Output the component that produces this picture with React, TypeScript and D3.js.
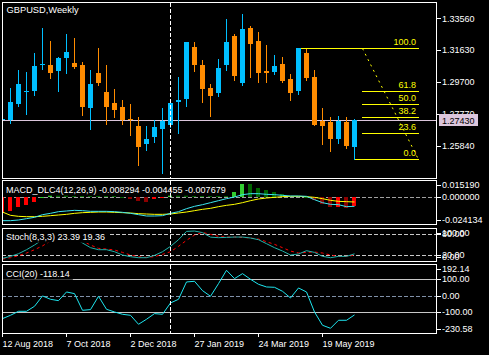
import React from 'react';
import * as d3 from 'd3';

// ---------- data (index 0 = week of 12 Aug 2018, weekly bars) ----------
const OPEN = [1.27411, 1.27411, 1.28379, 1.29134, 1.29183, 1.30718, 1.30736, 1.30392, 1.31178, 1.30857, 1.30736, 1.28155, 1.30253, 1.29104, 1.28439, 1.28197, 1.27472, 1.27048, 1.25978, 1.26402, 1.26885, 1.27127, 1.28481, 1.28699, 1.31825, 1.30736, 1.29346, 1.29062, 1.30755, 1.3249, 1.29666, 1.32974, 1.32188, 1.30374, 1.30313, 1.30797, 1.2989, 1.29183, 1.31462, 1.30011, 1.27369, 1.27308, 1.26281, 1.27308, 1.25797];
const HIGH = [1.27562, 1.29346, 1.30434, 1.30313, 1.3148, 1.32974, 1.32188, 1.31238, 1.32611, 1.32369, 1.30918, 1.30434, 1.31764, 1.30736, 1.29285, 1.2862, 1.28379, 1.27593, 1.27048, 1.27411, 1.28137, 1.28681, 1.30011, 1.32127, 1.32127, 1.31039, 1.29588, 1.31099, 1.33518, 1.32611, 1.3382, 1.33094, 1.32732, 1.31946, 1.31341, 1.3122, 1.30192, 1.31764, 1.31704, 1.30434, 1.28137, 1.27611, 1.27653, 1.27593, 1.2745];
const LOW = [1.2732, 1.27248, 1.28258, 1.27792, 1.28923, 1.30513, 1.29969, 1.29183, 1.30271, 1.30585, 1.27732, 1.26885, 1.29545, 1.27187, 1.27611, 1.27187, 1.26522, 1.24709, 1.25615, 1.26099, 1.24225, 1.26988, 1.26643, 1.28276, 1.30392, 1.28518, 1.27671, 1.2888, 1.30434, 1.2983, 1.29527, 1.30029, 1.29727, 1.29727, 1.30192, 1.29709, 1.28639, 1.29001, 1.2983, 1.27109, 1.25978, 1.25555, 1.26039, 1.25736, 1.25035];
const CLOSE = [1.27502, 1.28499, 1.29588, 1.29177, 1.30676, 1.30779, 1.30271, 1.3116, 1.31523, 1.30634, 1.28215, 1.29588, 1.29666, 1.28215, 1.28034, 1.27393, 1.27411, 1.25797, 1.26262, 1.26988, 1.27351, 1.28439, 1.2862, 1.32127, 1.30755, 1.29304, 1.2888, 1.30555, 1.32127, 1.3009, 1.32913, 1.32024, 1.30253, 1.30271, 1.30676, 1.29769, 1.29062, 1.31764, 1.29951, 1.27127, 1.27067, 1.26281, 1.27369, 1.25857, 1.2743];

const MACD_HIST = [-0.0148, -0.0132, -0.0094, -0.0076, -0.0045, 0.0003, 0.0018, 0.0017, 0.0017, 0.0016, 0.0016, 0.0015, 0.0015, 0.0014, 0.0013, 0.0003, -0.0018, -0.0038, -0.0045, -0.002, -0.001, 0.0018, 0.0017, 0.0017, 0.0016, 0.0016, 0.0016, 0.0015, 0.0015, 0.0048, 0.0124, 0.0124, 0.0086, 0.0068, 0.0049, 0.003, 0.0016, 0.0012, 0.0006, -0.0026, -0.0064, -0.0092, -0.0091, -0.0101, -0.008294];
const MACD_MAIN = [-0.02195, -0.02195, -0.02133, -0.02008, -0.01883, -0.01633, -0.01508, -0.01352, -0.0129, -0.01227, -0.01259, -0.01321, -0.01321, -0.01321, -0.01352, -0.01415, -0.01508, -0.01633, -0.01758, -0.01758, -0.01727, -0.01508, -0.01352, -0.01072, -0.00853, -0.00697, -0.0051, -0.00322, -0.00135, 0.00021, 0.00239, 0.00333, 0.00333, 0.00271, 0.00239, 0.00177, 0.00115, 0.00115, 0.00083, -0.00229, -0.0051, -0.00666, -0.00697, -0.00884, -0.0085];
const MACD_SIGNAL = [-0.01384, -0.01696, -0.01789, -0.01821, -0.01821, -0.01789, -0.01727, -0.01665, -0.01602, -0.01508, -0.01446, -0.01415, -0.01384, -0.01384, -0.01415, -0.01446, -0.01477, -0.0154, -0.01571, -0.01602, -0.01602, -0.01571, -0.01477, -0.01384, -0.01259, -0.01134, -0.0104, -0.00884, -0.00759, -0.00666, -0.0051, -0.00322, -0.00166, -0.00073, -0.0001, 0.00052, 0.00083, 0.00083, 0.00052, -0.0001, -0.00135, -0.00291, -0.00385, -0.00416, -0.004455];

const STOCH_K = [10.4, 16.1, 23.7, 35.1, 48.5, 64, 72, 70, 76, 68, 54.2, 40.9, 35.1, 35.1, 29.4, 19.9, 15.1, 12.3, 12.3, 18.9, 29.4, 44.7, 63.7, 87.5, 88.5, 84, 71, 69.5, 70.4, 71.3, 71.3, 68.5, 63.7, 52.3, 40.9, 31.3, 19.9, 22.8, 32.3, 27.5, 16.1, 12.3, 16.1, 16.1, 23.39];
const STOCH_D = [8.5, 12.3, 18, 25.6, 35.1, 46, 60, 68, 74, 72, 60, 48.5, 39, 37, 34.2, 27.5, 19.9, 15.1, 13.2, 15.1, 21.8, 29.4, 44.7, 61.8, 77, 84.7, 79, 73.2, 71.3, 71.3, 70.4, 68.5, 65.6, 58, 50.4, 40.9, 31.3, 25.6, 27.5, 28.5, 25.6, 19.9, 16.1, 16.1, 19.36];

const CCI = [-140.8, -120.4, -95.9, -95.9, -65.3, -2.1, -22.5, -30.7, 22.3, 12.1, -89.8, -85.7, -4.2, -83.7, -100, -114.3, -120.4, -175.4, -144.8, -110.2, -114.3, -45, -22.5, 83.5, 87.6, 30.5, -4.2, 73.3, 154.9, 103.9, 134.4, 99.8, 69.2, 52.9, 50.9, 26.4, -14.4, 46.8, 22.3, -100, -181.5, -199.9, -150.9, -150.9, -118.14];

const PRICE_TICKS = [1.3356, 1.3163, 1.297, 1.2777, 1.2584];
const MACD_TICKS = [0.01519, 0, -0.024134];
const STOCH_TICKS = [100, 80, 20, 0];
const STOCH_LEVELS = [80, 20];
const CCI_TICKS = [192.14, 100, 0, -100, -230.58];
const CCI_SOLID_LEVELS = [100, -100];
const DATE_LABELS = ['12 Aug 2018', '7 Oct 2018', '2 Dec 2018', '27 Jan 2019', '24 Mar 2019', '19 May 2019'];
const DATE_INDEX = [0, 8, 16, 24, 32, 40];
const FIB_LEVELS = [100, 61.8, 50, 38.2, 23.6, 0];
const FIB_HIGH_INDEX = 37;
const FIB_LOW_INDEX = 44;
const FIB_START_INDEX = 45;
const FIB_END_INDEX = 52;
const SEPARATOR_INDEX = 21;
const BID = 1.2743;
const SYMBOL_LABEL = 'GBPUSD,Weekly';
const MACD_LABEL = 'MACD_DLC4(12,26,9) -0.008294 -0.004455 -0.007679';
const STOCH_LABEL = 'Stoch(8,3,3) 23.39 19.36';
const CCI_LABEL = 'CCI(20) -118.14';

// ---------- styling ----------
const FONT = '"Liberation Sans", Arial, Helvetica, sans-serif';
const FS = 9;
const BULL = '#00BFFF';
const BEAR = '#FF8C00';
const FIB = '#FFFF00';

function measure(text: string, size: number): number {
  try {
    const c = document.createElement('canvas').getContext('2d');
    if (c) {
      c.font = `${size}px ${FONT}`;
      return c.measureText(text).width;
    }
  } catch (e) {}
  return text.length * size * 0.55;
}

export default function App() {
  const W = 489, H = 355, L = 2, R = 436;
  const P = {
    main: { top: 2, bottom: 178 },
    macd: { top: 180, bottom: 224 },
    stoch: { top: 228, bottom: 261 },
    cci: { top: 264, bottom: 333 },
  };
  const x = d3.scaleLinear().domain([0, 44]).range([2.5, 354.5]);
  const px = (i: number) => Math.floor(x(i));
  const yP = d3.scaleLinear().domain([1.2584, 1.3356]).range([146, 18.3]);
  const yM = d3.scaleLinear().domain([-0.024134, 0.01519]).range([223, 181]);
  const yS = d3.scaleLinear().domain([0, 100]).range([262, 227]);
  const yC = d3.scaleLinear().domain([-230.58, 192.14]).range([333.3, 264.2]);
  const cr = (v: number) => Math.round(v) + 0.5;

  const lineOf = (data: number[], y: (v: number) => number) =>
    d3.line<number>().x((_, i) => px(i) + 0.5).y((v) => y(v))(data) || '';

  const clipRect = (id: string, p: { top: number; bottom: number }) => (
    <clipPath id={id}>
      <rect x={L + 1} y={p.top + 1} width={R - L - 1} height={p.bottom - p.top - 1} />
    </clipPath>
  );

  const frame = (p: { top: number; bottom: number }) => (
    <rect x={L + 0.5} y={p.top + 0.5} width={R - L} height={p.bottom - p.top} fill="none" stroke="#FFFFFF" />
  );

  const separator = (p: { top: number; bottom: number }) => (
    <line x1={px(SEPARATOR_INDEX) + 0.5} x2={px(SEPARATOR_INDEX) + 0.5} y1={p.top + 1} y2={p.bottom}
      stroke="#FFFFFF" strokeDasharray="4,2" />
  );

  const panelLabel = (text: string, baseline: number, top: number, bgc = true) => {
    const w = measure(text, FS);
    return (
      <g>
        {bgc && <rect x={L + 1} y={top + 1} width={w + 6} height={baseline + 3 - top - 1} fill="#000000" />}
        <text x={6} y={baseline} fill="#FFFFFF" fontSize={FS} fontFamily={FONT}>{text}</text>
      </g>
    );
  };

  const axis = (ticks: number[], y: (v: number) => number, p: { top: number; bottom: number }, fmt: (v: number) => string) =>
    ticks.map((v, i) => {
      const ly = Math.max(p.top + 4.5, Math.min(p.bottom - 4.5, y(v)));
      return (
        <g key={i}>
          <line x1={R + 1} x2={R + 5} y1={cr(ly)} y2={cr(ly)} stroke="#FFFFFF" />
          <text x={442} y={ly + 3.2} fill="#FFFFFF" fontSize={FS} fontFamily={FONT}>{fmt(v)}</text>
        </g>
      );
    });

  const fHi = HIGH[FIB_HIGH_INDEX];
  const fLo = LOW[FIB_LOW_INDEX];
  const fibY = (lv: number) => yP(fLo + ((fHi - fLo) * lv) / 100);

  const histColor = (i: number) => {
    const v = MACD_HIST[i];
    const rising = i === 0 || v > MACD_HIST[i - 1];
    if (v >= 0) return rising ? '#32CD32' : '#006400';
    return rising ? '#FF0000' : '#8B0000';
  };

  const bidY = cr(yP(BID));

  return (
    <svg width={W} height={H} viewBox={`0 0 ${W} ${H}`}
      style={{ position: 'fixed', left: 0, top: 0, display: 'block', background: '#000000' }}>
      <defs>
        {clipRect('c-main', P.main)}
        {clipRect('c-macd', P.macd)}
        {clipRect('c-stoch', P.stoch)}
        {clipRect('c-cci', P.cci)}
      </defs>
      <rect x={0} y={0} width={W} height={H} fill="#000000" />

      {/* ---------------- main ---------------- */}
      <g clipPath="url(#c-main)" shapeRendering="crispEdges">
        <line x1={L} x2={R} y1={bidY} y2={bidY} stroke="#DCC6DC" />
        {FIB_LEVELS.map((lv) => {
          const x1 = lv === 100 ? px(FIB_HIGH_INDEX) : lv === 0 ? px(FIB_LOW_INDEX) : px(FIB_START_INDEX);
          const yy = cr(fibY(lv));
          return <line key={lv} x1={x1} x2={px(FIB_END_INDEX) + 1} y1={yy} y2={yy} stroke={FIB} />;
        })}
        {OPEN.map((o, i) => {
          const c = CLOSE[i];
          const col = c >= o ? BULL : BEAR;
          const yt = Math.round(yP(Math.max(o, c)));
          const yb = Math.round(yP(Math.min(o, c)));
          const cx = px(i);
          return (
            <g key={i}>
              <line x1={cx + 0.5} x2={cx + 0.5} y1={Math.round(yP(HIGH[i]))} y2={Math.round(yP(LOW[i])) + 1} stroke={col} />
              <rect x={cx - 2} y={yt} width={5} height={Math.max(1, yb - yt)} fill={col} />
            </g>
          );
        })}
      </g>
      <g clipPath="url(#c-main)">
        <line x1={px(FIB_START_INDEX) + 0.5} y1={cr(fibY(100))} x2={px(FIB_END_INDEX) + 0.5} y2={cr(fibY(0))}
          stroke={FIB} strokeDasharray="2,4" />
        {FIB_LEVELS.map((lv) => (
          <text key={lv} x={px(FIB_END_INDEX) - 2} y={Math.round(fibY(lv)) - 3} fill={FIB} fontSize={FS}
            fontFamily={FONT} textAnchor="end">{lv.toFixed(1)}</text>
        ))}
        {separator(P.main)}
        <text x={6.5} y={13} fill="#FFFFFF" fontSize={9.3} fontFamily={FONT}>{SYMBOL_LABEL}</text>
      </g>
      {frame(P.main)}
      {axis(PRICE_TICKS, yP, P.main, (v) => v.toFixed(5))}
      <rect x={439} y={bidY - 6.5} width={39} height={12} fill="#DCC6DC" />
      <text x={442} y={bidY + 3.2} fill="#000000" fontSize={FS} fontFamily={FONT}>{BID.toFixed(5)}</text>

      {/* ---------------- MACD ---------------- */}
      <g clipPath="url(#c-macd)">
        <line x1={L} x2={R} y1={cr(yM(0))} y2={cr(yM(0))} stroke="#A0A0A0" strokeDasharray="4,2" shapeRendering="crispEdges" />
        <g shapeRendering="crispEdges">
          {MACD_HIST.map((v, i) => {
            const y0 = Math.round(yM(0));
            const y1 = Math.round(yM(v));
            return <rect key={i} x={px(i) - 2} y={Math.min(y0, y1)} width={4} height={Math.max(1, Math.abs(y1 - y0))} fill={histColor(i)} />;
          })}
        </g>
        <path d={lineOf(MACD_SIGNAL, yM)} fill="none" stroke="#FFFF00" strokeWidth={1} />
        <path d={lineOf(MACD_MAIN, yM)} fill="none" stroke="#3CE6F0" strokeWidth={1} />
        {panelLabel(MACD_LABEL, 192.7, P.macd.top)}
        {separator(P.macd)}
      </g>
      {frame(P.macd)}
      {axis(MACD_TICKS, yM, P.macd, (v) => v.toFixed(6))}

      {/* ---------------- Stochastic ---------------- */}
      <g clipPath="url(#c-stoch)">
        {STOCH_LEVELS.map((lv) => (
          <line key={lv} x1={L} x2={R} y1={cr(yS(lv))} y2={cr(yS(lv))} stroke="#C8C8C8" strokeDasharray="4,2" shapeRendering="crispEdges" />
        ))}
        <path d={lineOf(STOCH_D, yS)} fill="none" stroke="#FF0000" strokeDasharray="3,3" />
        <path d={lineOf(STOCH_K, yS)} fill="none" stroke="#20B2AA" />
        {panelLabel(STOCH_LABEL, 239.7, P.stoch.top)}
        {separator(P.stoch)}
      </g>
      {frame(P.stoch)}
      {axis(STOCH_TICKS, yS, P.stoch, (v) => v.toFixed(2))}

      {/* ---------------- CCI ---------------- */}
      <g clipPath="url(#c-cci)">
        {CCI_SOLID_LEVELS.map((lv) => (
          <line key={lv} x1={L} x2={R} y1={cr(yC(lv))} y2={cr(yC(lv))} stroke="#C8C8C8" shapeRendering="crispEdges" />
        ))}
        <line x1={L} x2={R} y1={cr(yC(0))} y2={cr(yC(0))} stroke="#8090A8" strokeDasharray="4,2" shapeRendering="crispEdges" />
        <path d={lineOf(CCI, yC)} fill="none" stroke="#1EE6F0" />
        {panelLabel(CCI_LABEL, 276.7, P.cci.top)}
        {separator(P.cci)}
      </g>
      {frame(P.cci)}
      {axis(CCI_TICKS, yC, P.cci, (v) => v.toFixed(2))}

      {/* ---------------- time axis ---------------- */}
      {DATE_INDEX.map((di, i) => (
        <g key={i}>
          <line x1={px(di) + 0.5} x2={px(di) + 0.5} y1={P.cci.bottom + 1} y2={P.cci.bottom + 4} stroke="#FFFFFF" shapeRendering="crispEdges" />
          <text x={px(di) + 0.5} y={346.5} fill="#FFFFFF" fontSize={FS} fontFamily={FONT}>{DATE_LABELS[i]}</text>
        </g>
      ))}
    </svg>
  );
}
